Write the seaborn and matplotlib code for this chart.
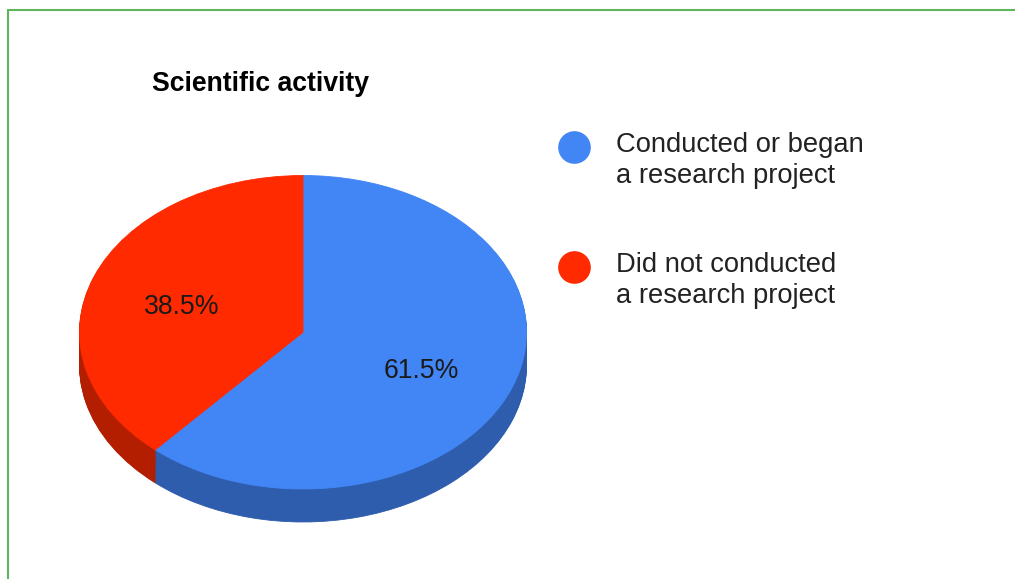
import matplotlib
matplotlib.use("Agg")
import matplotlib.pyplot as plt
from matplotlib.lines import Line2D
from matplotlib.legend_handler import HandlerLine2D
import seaborn as sns

sns.set_theme(style="white")
plt.rcParams['font.family'] = ['Liberation Sans', 'DejaVu Sans']

categories = ["Conducted or began\na research project", "Did not conducted\na research project"]
values = [61.5, 38.5]
top_colors = ["#4286f5", "#ff2a00"]
side_colors = ["#2f5dae", "#b31e00"]
title = "Scientific activity"
frame_color = "#5fb65a"

W, H = 1015, 579
fig = plt.figure(figsize=(W / 100, H / 100), dpi=100, facecolor="white")

# pixel box of the pie (top ellipse + extrusion)
L, R, T, B = 79.5, 526.5, 175.5, 522
ELLIPSE_H = 313.5
depth = (B - T - ELLIPSE_H) / (ELLIPSE_H / 2)
ax = fig.add_axes([L / W, 1 - B / H, (R - L) / W, (B - T) / H])


def seal(wedges):
    for w in wedges:
        w.set_edgecolor(w.get_facecolor())
        w.set_linewidth(0.6)


class RaisedMarker(HandlerLine2D):
    """Legend marker aligned with the first line of a two-line label."""

    def create_artists(self, legend, orig_handle, xdescent, ydescent, width, height, fontsize, trans):
        artists = super().create_artists(legend, orig_handle, xdescent, ydescent,
                                         width, height, fontsize, trans)
        for a in artists:
            a.set_ydata(a.get_ydata() + 10.1)
        return artists


# side wall: stacked copies of the pie
n = 34
for i in range(n, 0, -1):
    side, _ = ax.pie(values, colors=sns.color_palette(side_colors), startangle=90, counterclock=False,
                     center=(0, -depth * i / n), radius=1, frame=True)
    seal(side)
# top face
wedges, texts, autotexts = ax.pie(values, colors=sns.color_palette(top_colors), startangle=90,
                                  counterclock=False, center=(0, 0), radius=1, frame=True,
                                  autopct="%.1f%%", pctdistance=0.58,
                                  textprops=dict(fontsize=19.2, color="#1a1a1a"))
seal(wedges)
for t in autotexts:
    x, y = t.get_position()
    t.set_position((x - 0.012, y - 0.045))
autotexts[1].set_x(autotexts[1].get_position()[0] + 0.01)
ax.set_aspect("auto")
ax.set_xlim(-1, 1)
ax.set_ylim(-1 - depth, 1)
ax.axis("off")

fig.text(261 / W, 1 - 84 / H, title, ha="center", va="center",
         fontsize=19.2, fontweight="bold", color="black")

handles = [Line2D([], [], linestyle="none", marker="o", markersize=22.5, color=c) for c in top_colors]
leg = fig.legend(handles, categories, loc="upper left", bbox_to_anchor=(540 / W, 1 - 118 / H),
                 frameon=False, fontsize=19.7, labelcolor="#222222", labelspacing=2.31,
                 handletextpad=0.81, handlelength=1.45, borderpad=0.5, borderaxespad=0,
                 handler_map={Line2D: RaisedMarker()})
for t in leg.get_texts():
    t.set_linespacing(1.25)

fig.add_artist(Line2D([7.5 / W, 7.5 / W], [0, 1 - 9.5 / H], color=frame_color, lw=1.5,
                      transform=fig.transFigure))
fig.add_artist(Line2D([7.5 / W, 1], [1 - 9.5 / H, 1 - 9.5 / H], color=frame_color, lw=1.5,
                      transform=fig.transFigure))

fig.savefig("out.png", dpi=100, facecolor="white")
